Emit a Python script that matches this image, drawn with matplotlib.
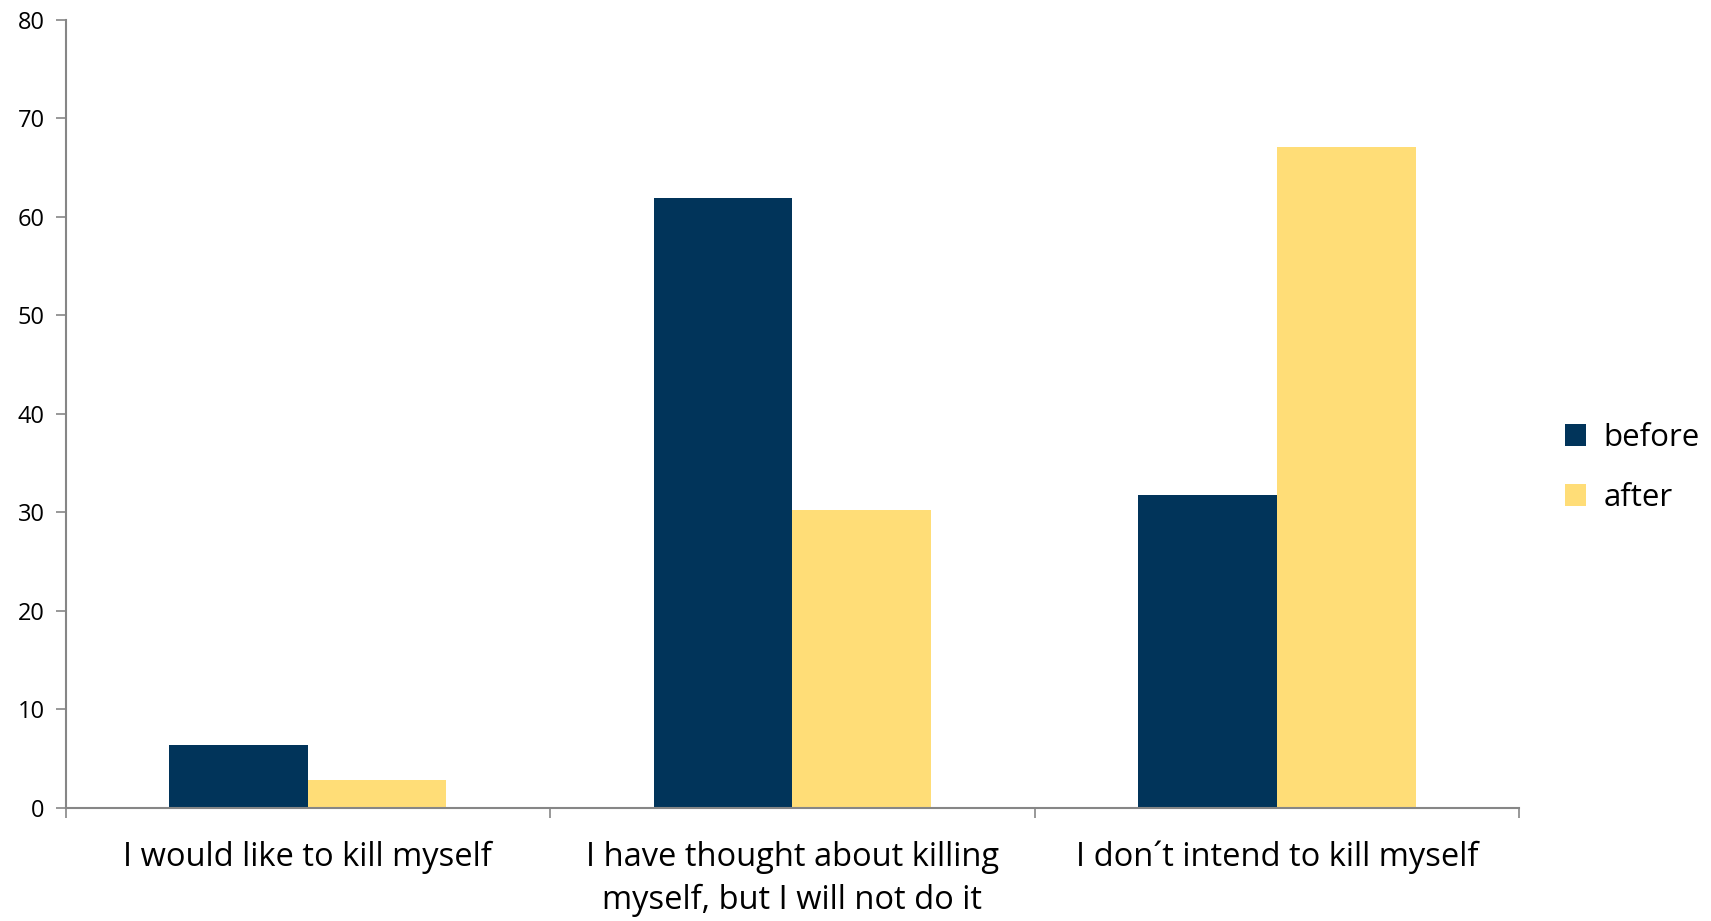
import matplotlib.pyplot as plt
import numpy as np

# categories and values
categories = ["I would like to kill myself",
              "I have thought about killing\nmyself, but I will not do it",
              "I don\u00b4t intend to kill myself"]
before = [6.3, 61.9, 31.7]
after = [2.8, 30.2, 67.1]

plt.rcParams['font.family'] = ['Open Sans', 'DejaVu Sans']

fig = plt.figure(figsize=(17.11, 9.21), dpi=100)
ax = fig.add_axes([0.0383, 0.1232, 0.8497, 0.8555])

x = np.arange(len(categories)) + 0.5
w = 0.286
ax.bar(x - w / 2, before, width=w, color='#01345A', label='before')
ax.bar(x + w / 2, after, width=w, color='#FFDD77', label='after')

ax.set_xlim(0, len(categories))
ax.set_ylim(0, 80)
ax.set_yticks(range(0, 81, 10))

# boundary ticks on the x axis, labels in the middle of each group
ax.set_xticks(range(len(categories) + 1))
ax.set_xticklabels([])
ax.set_xticks(x, minor=True)
ax.set_xticklabels(categories, minor=True, fontsize=23.5, linespacing=1.4)
ax.tick_params(axis='x', which='minor', length=0, pad=24)
ax.tick_params(axis='x', which='major', length=7, color='#868686', width=1.2, direction='out')
ax.tick_params(axis='y', length=7, color='#868686', width=1.2, labelsize=17, pad=8)

for s in ['top', 'right']:
    ax.spines[s].set_visible(False)
for s in ['left', 'bottom']:
    ax.spines[s].set_color('#868686')
    ax.spines[s].set_linewidth(1.5)

fig.legend(loc='center left', bbox_to_anchor=(0.898, 0.492), frameon=False,
           fontsize=22.5, handlelength=0.7, handleheight=0.7, handletextpad=0.55,
           labelspacing=0.95)

fig.savefig('out.png', dpi=100)
